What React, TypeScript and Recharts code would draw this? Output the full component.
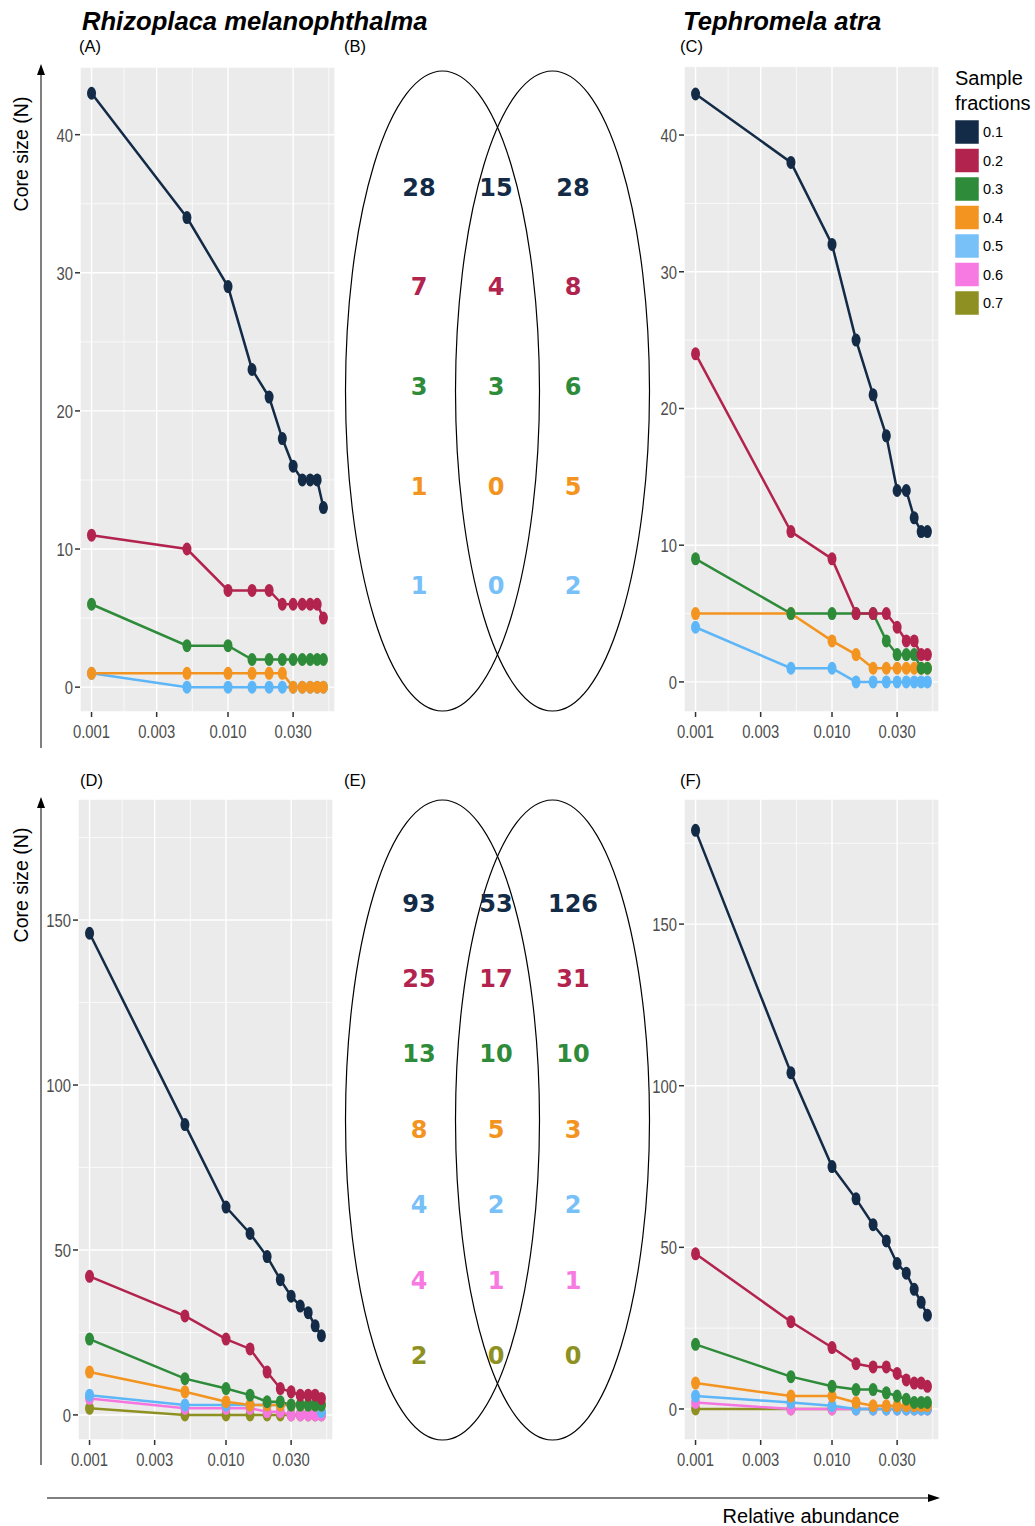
import { LineChart, Line, XAxis, YAxis, CartesianGrid } from "recharts";

// relative abundance thresholds (x) and axis breaks
const X_VALUES = [0.001, 0.005, 0.01, 0.015, 0.02, 0.025, 0.03, 0.035, 0.04, 0.045, 0.05];
const X_TICKS = [0.001, 0.003, 0.01, 0.03];
const X_MINOR = [0.001732, 0.005477, 0.01732, 0.05477];
const X_DOMAIN = [0.000823, 0.0608];

const FRACTIONS = ["0.1", "0.2", "0.3", "0.4", "0.5", "0.6", "0.7"];
const COLORS = ["#132B46", "#B2234E", "#2E8B39", "#F39420", "#5DB6F7", "#F576E0", "#8E9122"];
const LEGEND_COLORS = ["#132B46", "#B2234E", "#2E8B39", "#F39420", "#78C0F8", "#F779E2", "#8E9122"];

// (A) Rhizoplaca, fractions 0.1 - 0.5
const A_SERIES = [
  [43, 34, 29, 23, 21, 18, 16, 15, 15, 15, 13],
  [11, 10, 7, 7, 7, 6, 6, 6, 6, 6, 5],
  [6, 3, 3, 2, 2, 2, 2, 2, 2, 2, 2],
  [1, 1, 1, 1, 1, 1, 0, 0, 0, 0, 0],
  [1, 0, 0, 0, 0, 0, 0, 0, 0, 0, 0],
];

// (C) Tephromela, fractions 0.1 - 0.5
const C_SERIES = [
  [43, 38, 32, 25, 21, 18, 14, 14, 12, 11, 11],
  [24, 11, 9, 5, 5, 5, 4, 3, 3, 2, 2],
  [9, 5, 5, 5, 5, 3, 2, 2, 2, 1, 1],
  [5, 5, 3, 2, 1, 1, 1, 1, 1, 1, 1],
  [4, 1, 1, 0, 0, 0, 0, 0, 0, 0, 0],
];

// (D) Rhizoplaca, fractions 0.1 - 0.7
const D_SERIES = [
  [146, 88, 63, 55, 48, 41, 36, 33, 31, 27, 24],
  [42, 30, 23, 20, 13, 8, 7, 6, 6, 6, 5],
  [23, 11, 8, 6, 4, 4, 3, 3, 3, 3, 3],
  [13, 7, 4, 3, 3, 3, 3, 3, 3, 3, 3],
  [6, 3, 3, 3, 3, 3, 3, 3, 3, 3, 1],
  [5, 2, 2, 2, 1, 1, 0, 0, 0, 0, 0],
  [2, 0, 0, 0, 0, 0, 0, 0, 0, 0, 0],
];

// (F) Tephromela, fractions 0.1 - 0.7
const F_SERIES = [
  [179, 104, 75, 65, 57, 52, 45, 42, 37, 33, 29],
  [48, 27, 19, 14, 13, 13, 11, 9, 8, 8, 7],
  [20, 10, 7, 6, 6, 5, 4, 3, 2, 2, 2],
  [8, 4, 4, 2, 1, 1, 1, 1, 1, 1, 1],
  [4, 2, 1, 0, 0, 0, 0, 0, 0, 0, 0],
  [2, 0, 0, 0, 0, 0, 0, 0, 0, 0, 0],
  [0, 0, 0, 0, 0, 0, 0, 0, 0, 0, 0],
];

// Venn counts: unique Rhizoplaca / shared / unique Tephromela
const B_LEFT = [28, 7, 3, 1, 1];
const B_MID = [15, 4, 3, 0, 0];
const B_RIGHT = [28, 8, 6, 5, 2];
const E_LEFT = [93, 25, 13, 8, 4, 4, 2];
const E_MID = [53, 17, 10, 5, 2, 1, 0];
const E_RIGHT = [126, 31, 10, 3, 2, 1, 0];

const TOP_Y_TICKS = [0, 10, 20, 30, 40];
const TOP_Y_MINOR = [5, 15, 25, 35, 45];
const BOT_Y_TICKS = [0, 50, 100, 150];
const BOT_Y_MINOR = [25, 75, 125, 175];

const SANS = "'Liberation Sans', Arial, sans-serif";

// ggplot's tick text here is squeezed horizontally
function XTick(props: any) {
  const { x, y, payload } = props;
  return (
    <text transform={`translate(${x},${y + 19}) scale(0.78,1)`} textAnchor="middle" fontFamily={SANS} fontSize={19} fill="#4D4D4D">
      {Number(payload.value).toFixed(3)}
    </text>
  );
}

function YTick(props: any) {
  const { x, y, payload } = props;
  return (
    <text transform={`translate(${x},${y + 7}) scale(0.78,1)`} textAnchor="end" fontFamily={SANS} fontSize={19} fill="#4D4D4D">
      {payload.value}
    </text>
  );
}

function CorePanel({ left, top, width, height, series, yDomain, yTicks, yMinor }: any) {
  const data = X_VALUES.map((x, i) => {
    const row: any = { x };
    series.forEach((s: number[], k: number) => (row["f" + k] = s[i]));
    return row;
  });
  const YW = 60;
  const XH = 45;
  const lines = series.map((_: number[], k: number) => (
    <Line
      key={"f" + k}
      dataKey={"f" + k}
      type="linear"
      stroke={COLORS[k]}
      strokeWidth={2.5}
      isAnimationActive={false}
      dot={(p: any) => (
        <ellipse key={"d" + k + "-" + p.index} cx={p.cx} cy={p.cy} rx={4.5} ry={6.5} fill={COLORS[k]} />
      )}
      activeDot={false}
    />
  ));
  return (
    <div style={{ position: "absolute", left: left - YW, top }}>
      <LineChart width={width + YW} height={height + XH} data={data} margin={{ top: 0, right: 0, bottom: 0, left: 0 }}>
        <XAxis
          dataKey="x"
          type="number"
          scale="log"
          domain={X_DOMAIN}
          ticks={X_TICKS}
          allowDataOverflow
          axisLine={false}
          tickLine={{ stroke: "#333", strokeWidth: 1.5 }}
          tickSize={5}
          height={XH}
          tick={<XTick />}
        />
        <YAxis
          type="number"
          domain={yDomain}
          ticks={yTicks}
          allowDataOverflow
          axisLine={false}
          tickLine={{ stroke: "#333", strokeWidth: 1.5 }}
          tickSize={5}
          width={YW}
          tick={<YTick />}
        />
        <CartesianGrid fill="#EBEBEB" fillOpacity={1} stroke="#FFFFFF" strokeWidth={1.4} />
        <CartesianGrid stroke="#FFFFFF" strokeWidth={0.7} horizontalValues={yMinor} verticalValues={X_MINOR} />
        {lines.reverse()}
      </LineChart>
    </div>
  );
}

function Venn({ cy, rows, left, mid, right }: any) {
  return (
    <g>
      <ellipse cx={442.5} cy={cy} rx={97} ry={320} fill="none" stroke="#000" strokeWidth={1.2} />
      <ellipse cx={552.5} cy={cy} rx={97} ry={320} fill="none" stroke="#000" strokeWidth={1.2} />
      {rows.map((ry: number, i: number) => (
        <g key={i} fontFamily="'DejaVu Sans', sans-serif" fontWeight="bold" fontSize={24} fill={LEGEND_COLORS[i]} textAnchor="middle">
          <text x={419} y={ry + 9}>{left[i]}</text>
          <text x={496} y={ry + 9}>{mid[i]}</text>
          <text x={573} y={ry + 9}>{right[i]}</text>
        </g>
      ))}
    </g>
  );
}

const B_ROWS = [187, 286, 386, 486, 585];
const E_ROWS = [903, 978, 1053, 1129, 1204, 1280, 1355];

export default function App() {
  return (
    <div style={{ position: "absolute", left: 0, top: 0, width: 1035, height: 1526, background: "#fff", fontFamily: SANS }}>
      <CorePanel left={80} top={67} width={255} height={645} series={A_SERIES} yDomain={[-1.8, 44.9]} yTicks={TOP_Y_TICKS} yMinor={TOP_Y_MINOR} />
      <CorePanel left={684} top={66} width={255} height={646} series={C_SERIES} yDomain={[-2.2, 45.05]} yTicks={TOP_Y_TICKS} yMinor={TOP_Y_MINOR} />
      <CorePanel left={78} top={799} width={255} height={641} series={D_SERIES} yDomain={[-7.6, 186.7]} yTicks={BOT_Y_TICKS} yMinor={BOT_Y_MINOR} />
      <CorePanel left={684} top={799} width={255} height={641} series={F_SERIES} yDomain={[-9.6, 188.7]} yTicks={BOT_Y_TICKS} yMinor={BOT_Y_MINOR} />
      <svg width={1035} height={1526} style={{ position: "absolute", left: 0, top: 0, pointerEvents: "none" }}>
        <text x={82} y={30} fontFamily={SANS} fontWeight="bold" fontStyle="italic" fontSize={25.6}>Rhizoplaca melanophthalma</text>
        <text x={683} y={30} fontFamily={SANS} fontWeight="bold" fontStyle="italic" fontSize={25.6}>Tephromela atra</text>
        {[["(A)", 79, 52], ["(B)", 344, 52], ["(C)", 680, 52], ["(D)", 80, 786], ["(E)", 344, 786], ["(F)", 680, 786]].map(([t, x, y]: any) => (
          <text key={t} x={x} y={y} fontFamily={SANS} fontSize={16.5}>{t}</text>
        ))}
        <Venn cy={391} rows={B_ROWS} left={B_LEFT} mid={B_MID} right={B_RIGHT} />
        <Venn cy={1120} rows={E_ROWS} left={E_LEFT} mid={E_MID} right={E_RIGHT} />
        {/* outer axes */}
        <line x1={41} y1={748} x2={41} y2={72} stroke="#000" strokeWidth={1} />
        <polygon points="41,64 37,75 45,75" fill="#000" />
        <line x1={41} y1={1465} x2={41} y2={805} stroke="#000" strokeWidth={1} />
        <polygon points="41,797 37,808 45,808" fill="#000" />
        <line x1={47} y1={1498} x2={930} y2={1498} stroke="#000" strokeWidth={1} />
        <polygon points="940,1498 928,1494 928,1502" fill="#000" />
        <text transform="translate(28,154) rotate(-90)" textAnchor="middle" fontFamily={SANS} fontSize={19.5}>Core size (N)</text>
        <text transform="translate(28,885) rotate(-90)" textAnchor="middle" fontFamily={SANS} fontSize={19.5}>Core size (N)</text>
        <text x={811} y={1523} textAnchor="middle" fontFamily={SANS} fontSize={20}>Relative abundance</text>
        {/* legend */}
        <text x={955} y={85} fontFamily={SANS} fontSize={20}>Sample</text>
        <text x={955} y={110} fontFamily={SANS} fontSize={20}>fractions</text>
        {FRACTIONS.map((f, i) => (
          <g key={f}>
            <rect x={955} y={120 + i * 28.5} width={24} height={24} fill={LEGEND_COLORS[i]} stroke="#fff" strokeWidth={0.5} />
            <text x={983} y={137 + i * 28.5} fontFamily={SANS} fontSize={14.5}>{f}</text>
          </g>
        ))}
      </svg>
    </div>
  );
}
